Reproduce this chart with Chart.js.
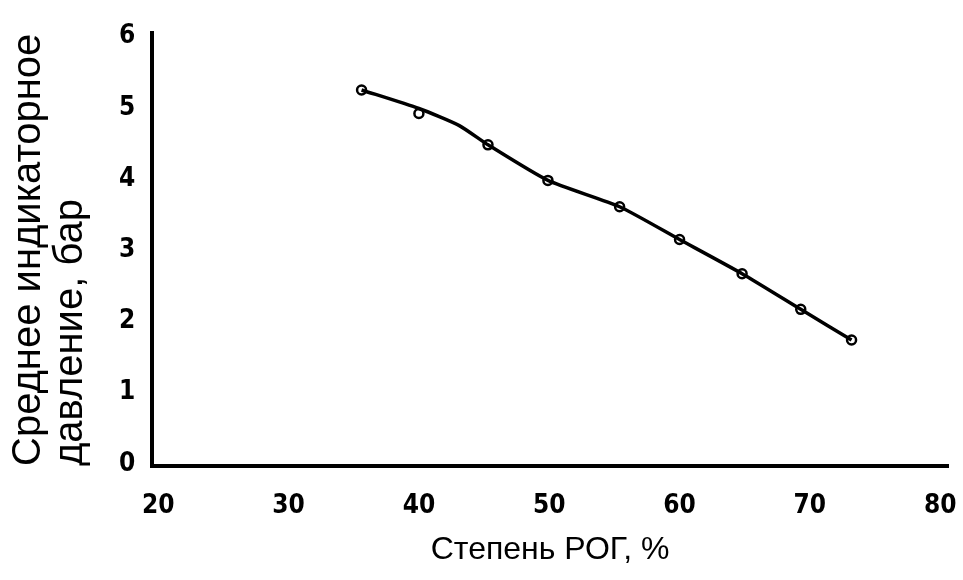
<!DOCTYPE html>
<html>
<head>
    <title>Среднее индикаторное давление</title>
    <script src="https://cdn.jsdelivr.net/npm/chart.js"></script>
    <style>
        body {
            margin: 0;
            background-color: #fff;
        }
        #pressureChart {
            display: block;
        }
    </style>
</head>
<body>
    <canvas id="pressureChart" width="963" height="580"></canvas>

    <script>
        // Measured points (степень РОГ, %  ->  давление, бар)
        const egrPercent = [35.6, 40.0, 45.3, 49.9, 55.4, 60.0, 64.8, 69.3, 73.2];
        const pressureBar = [5.25, 4.92, 4.48, 3.98, 3.61, 3.15, 2.67, 2.17, 1.74];

        // Fitted curve drawn through the points
        const fitX = [35.6, 40.0, 43.1, 45.3, 49.9, 55.4, 60.0, 64.8, 69.3, 73.2];
        const fitY = [5.25, 4.99, 4.75, 4.48, 3.98, 3.61, 3.15, 2.67, 2.17, 1.74];

        const xTicks = [20, 30, 40, 50, 60, 70, 80];
        const yTicks = [0, 1, 2, 3, 4, 5, 6];

        const tickFont = { family: 'DejaVu Sans Condensed', size: 26, weight: 'bold', lineHeight: 1.0 };

        const ctx = document.getElementById('pressureChart').getContext('2d');
        new Chart(ctx, {
            type: 'scatter',
            data: {
                datasets: [{
                    label: 'Аппроксимация',
                    data: fitX.map((x, i) => ({ x: x, y: fitY[i] })),
                    showLine: true,
                    borderColor: '#000',
                    borderWidth: 3.5,
                    pointRadius: 0,
                    tension: 0.2
                }, {
                    label: 'Эксперимент',
                    data: egrPercent.map((x, i) => ({ x: x, y: pressureBar[i] })),
                    showLine: false,
                    pointRadius: 4.5,
                    pointBorderWidth: 2.5,
                    pointBorderColor: '#000',
                    pointBackgroundColor: '#fff'
                }]
            },
            options: {
                responsive: false,
                animation: false,
                layout: {
                    padding: { left: 8, right: 0, top: 33, bottom: 14 }
                },
                plugins: {
                    legend: { display: false },
                    tooltip: { enabled: false }
                },
                scales: {
                    x: {
                        type: 'linear',
                        min: 19.54,
                        max: 80.6,
                        afterBuildTicks: axis => { axis.ticks = xTicks.map(v => ({ value: v })); },
                        // the axis line runs almost to the right edge
                        afterFit: axis => { axis.paddingLeft = 0; axis.paddingRight = 15; },
                        grid: { drawOnChartArea: false, drawTicks: false },
                        border: { display: true, color: '#000', width: 4 },
                        ticks: { color: '#000', font: tickFont, padding: 27 },
                        title: {
                            display: true,
                            text: 'Степень РОГ, %',
                            color: '#000',
                            font: { family: 'Liberation Sans', size: 32, lineHeight: 1.0 },
                            padding: { top: -12, bottom: 0 }
                        }
                    },
                    y: {
                        type: 'linear',
                        min: -0.03,
                        max: 6.05,
                        afterBuildTicks: axis => { axis.ticks = yTicks.map(v => ({ value: v })); },
                        grid: { drawOnChartArea: false, drawTicks: false },
                        border: { display: true, color: '#000', width: 4 },
                        ticks: { color: '#000', font: tickFont, padding: 17 },
                        title: {
                            display: true,
                            text: ['Среднее индикаторное', 'давление, бар'],
                            color: '#000',
                            font: { family: 'Liberation Sans', size: 40, lineHeight: 1.05 },
                            align: 'start',
                            padding: { top: 0, bottom: 10 }
                        }
                    }
                }
            }
        });
    </script>
</body>
</html>
